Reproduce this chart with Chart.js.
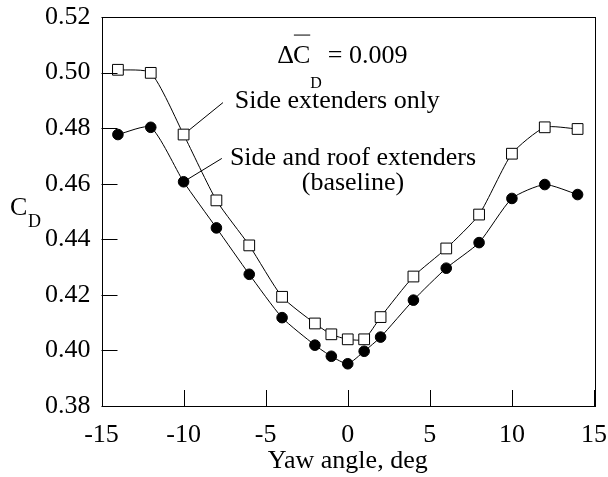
<!DOCTYPE html>
<html>
<head>
<meta charset="utf-8">
<script src="https://cdn.jsdelivr.net/npm/chart.js@4.4.0/dist/chart.umd.min.js"></script>
<style>
  html, body { margin: 0; padding: 0; background: #fff; }
</style>
</head>
<body>
<canvas id="cd__graph" width="608" height="477"></canvas>
<script>
const yawAngles = [-14, -12, -10, -8, -6, -4, -2, -1, 0, 1, 2, 4, 6, 8, 10, 12, 14];
const sideOnly = [0.5010, 0.4999, 0.4777, 0.4540, 0.4378, 0.4193, 0.4097, 0.4058, 0.4040, 0.4040, 0.4120, 0.4266, 0.4367, 0.4489, 0.4708, 0.4803, 0.4797];
const sideRoof = [0.4777, 0.4803, 0.4607, 0.4441, 0.4274, 0.4118, 0.4019, 0.3979, 0.3952, 0.3997, 0.4048, 0.4181, 0.4296, 0.4388, 0.4547, 0.4597, 0.4561];
const xTicks = [-15, -10, -5, 0, 5, 10, 15];
const yTicks = [0.38, 0.40, 0.42, 0.44, 0.46, 0.48, 0.50, 0.52];

const SERIF = '"Liberation Serif", "Times New Roman", serif';
const toPoints = (vals) => yawAngles.map((x, i) => ({ x: x, y: vals[i] }));

// frame, inward tick marks, labels and leader lines
const plotNotes = {
    id: 'plotNotes',
    beforeDatasetsDraw(chart) {
        const { ctx, scales: { x, y } } = chart;
        ctx.save();
        ctx.strokeStyle = '#000';
        ctx.lineWidth = 1;
        // leaders run to the marker centre, the marker itself covers the end
        const leaders = [
            [-7.6, 0.4892, -10, sideOnly[2]],
            [-7.67, 0.4691, -10, sideRoof[2]],
        ];
        leaders.forEach(([x0, y0, x1, y1]) => {
            ctx.beginPath();
            ctx.moveTo(x.getPixelForValue(x0), y.getPixelForValue(y0));
            ctx.lineTo(x.getPixelForValue(x1), y.getPixelForValue(y1));
            ctx.stroke();
        });
        ctx.restore();
    },
    afterDraw(chart) {
        const { ctx, chartArea: a, scales: { x, y } } = chart;
        ctx.save();
        ctx.strokeStyle = '#000';
        ctx.lineWidth = 1;
        ctx.strokeRect(Math.round(a.left) + 0.5, Math.round(a.top) + 0.5,
            Math.round(a.right - a.left), Math.round(a.bottom - a.top));

        const tick = 16;
        ctx.beginPath();
        yTicks.forEach(v => {
            const py = Math.round(y.getPixelForValue(v)) + 0.5;
            ctx.moveTo(a.left, py);
            ctx.lineTo(a.left + tick, py);
        });
        xTicks.forEach(v => {
            const px = Math.round(x.getPixelForValue(v)) + 0.5;
            ctx.moveTo(px, a.bottom);
            ctx.lineTo(px, a.bottom - tick);
        });
        ctx.stroke();

        ctx.fillStyle = '#000';
        ctx.textBaseline = 'alphabetic';

        // y axis title C_D
        ctx.textAlign = 'left';
        ctx.font = '26px ' + SERIF;
        ctx.fillText('C', 10, 215);
        ctx.font = '18px ' + SERIF;
        ctx.fillText('D', 28, 227);

        // delta C_D note
        let px = x.getPixelForValue(-4.3);
        const base = y.getPixelForValue(0.5036);
        ctx.font = '26px ' + SERIF;
        ctx.fillText('\u0394', px, base);
        px += ctx.measureText('\u0394').width - 1;
        const cw = ctx.measureText('C').width;
        ctx.fillText('C', px, base);
        ctx.beginPath();
        ctx.moveTo(px + 1, base - 27.5);
        ctx.lineTo(px + cw, base - 27.5);
        ctx.stroke();
        px += cw;
        ctx.font = '16px ' + SERIF;
        ctx.fillText('D', px, base + 25);
        px += ctx.measureText('D').width + 6;
        ctx.font = '26px ' + SERIF;
        ctx.fillText('= 0.009', px, base);

        // series labels
        ctx.fillText('Side extenders only', x.getPixelForValue(-6.88), y.getPixelForValue(0.4874));
        const l2 = x.getPixelForValue(-7.18);
        const l2w = ctx.measureText('Side and roof extenders').width;
        ctx.fillText('Side and roof extenders', l2, y.getPixelForValue(0.4669));
        ctx.textAlign = 'center';
        ctx.fillText('(baseline)', l2 + l2w / 2, y.getPixelForValue(0.4579));
        ctx.restore();
    }
};

const ctxCd = document.getElementById('cd__graph').getContext('2d');

const cdChart = new Chart(ctxCd, {
    type: 'scatter',
    data: {
        datasets: [{
            label: 'Side extenders only',
            data: toPoints(sideOnly),
            showLine: true,
            borderColor: '#000',
            borderWidth: 1,
            tension: 0.2,
            pointStyle: 'rect',
            pointRadius: 7.6,
            pointBackgroundColor: '#fff',
            pointBorderColor: '#000',
            pointBorderWidth: 1,
        }, {
            label: 'Side and roof extenders (baseline)',
            data: toPoints(sideRoof),
            showLine: true,
            borderColor: '#000',
            borderWidth: 1,
            tension: 0.2,
            pointStyle: 'circle',
            pointRadius: 5.3,
            pointBackgroundColor: '#000',
            pointBorderColor: '#000',
            pointBorderWidth: 1,
        }]
    },
    options: {
        responsive: false,
        animation: false,
        layout: {
            padding: { left: 0, right: 14, top: 17, bottom: 0 }
        },
        plugins: {
            legend: { display: false },
            tooltip: { enabled: false },
            title: { display: false }
        },
        scales: {
            x: {
                type: 'linear',
                min: -15,
                max: 15,
                afterBuildTicks: s => { s.ticks = xTicks.map(v => ({ value: v })); },
                afterFit: s => { s.height = 71; s.paddingLeft = 0; s.paddingRight = 0; },
                grid: { display: false, drawTicks: false },
                border: { display: false },
                ticks: {
                    autoSkip: false,
                    maxRotation: 0,
                    padding: 14,
                    color: '#000',
                    font: { family: SERIF, size: 26 },
                    callback: v => String(v)
                },
                title: {
                    display: true,
                    text: 'Yaw angle, deg',
                    color: '#000',
                    font: { family: SERIF, size: 26 },
                    padding: { top: 0, bottom: 0 }
                }
            },
            y: {
                type: 'linear',
                min: 0.38,
                max: 0.52,
                afterBuildTicks: s => { s.ticks = yTicks.map(v => ({ value: v })); },
                afterFit: s => { s.width = 101.5; s.paddingTop = 0; s.paddingBottom = 0; },
                grid: { display: false, drawTicks: false },
                border: { display: false },
                ticks: {
                    autoSkip: false,
                    padding: 11,
                    color: '#000',
                    font: { family: SERIF, size: 26 },
                    callback: v => v.toFixed(2)
                }
            }
        }
    },
    plugins: [plotNotes]
});
</script>
</body>
</html>
